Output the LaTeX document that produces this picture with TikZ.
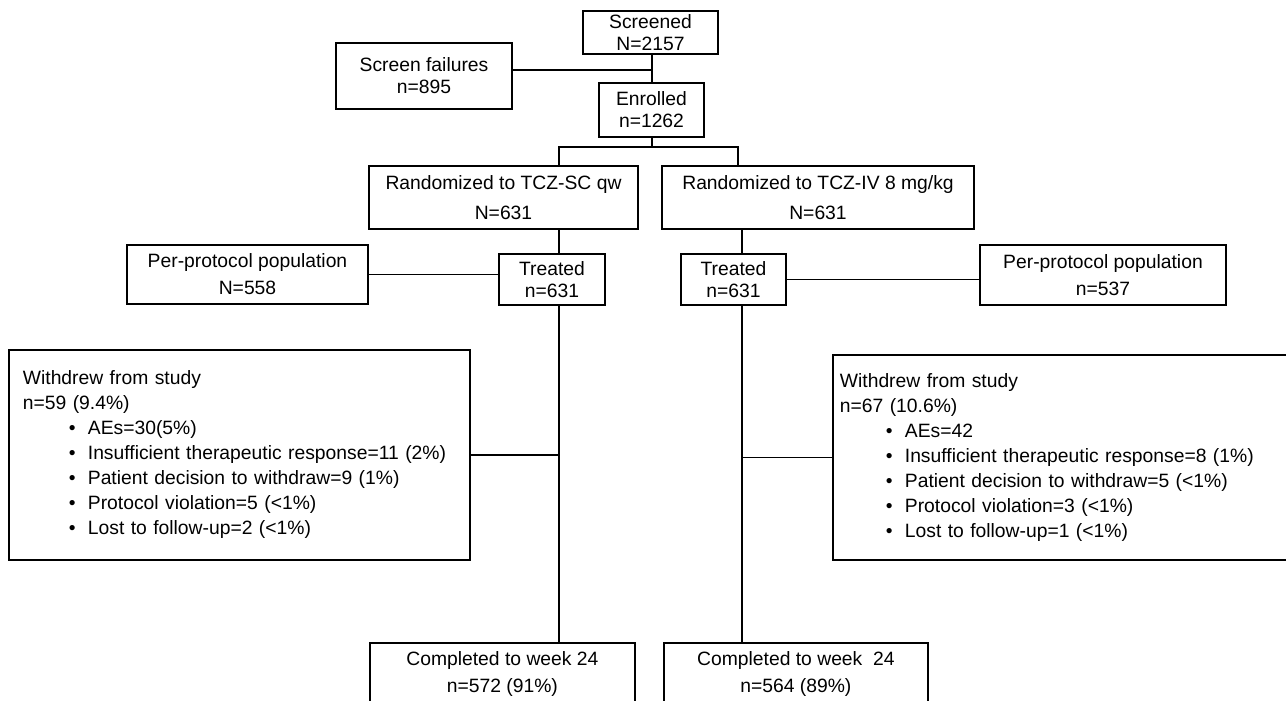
\documentclass[tikz,border=0pt]{standalone}
\usepackage{fontspec}
\setmainfont{Liberation Sans}
\usetikzlibrary{calc}

\newcommand{\wdbullet}{\hspace*{23pt}\makebox[9.5pt][l]{\textbullet}}

\begin{document}
\begin{tikzpicture}[x=0.5pt,y=-0.5pt,
      box/.style={draw,line width=0.9pt,align=center,inner sep=0pt,
                  font=\fontsize{9.65}{11}\selectfont},
      listbox/.style={draw,line width=0.9pt,align=left,anchor=north west,
                  inner ysep=0pt,font=\fontsize{9.65}{12.5}\selectfont},
      link/.style={line width=0.9pt},
    ]
    \useasboundingbox[fill=white] (0,0) rectangle (1286,701);
    \clip (0,0) rectangle (1286,701);

    % screening
    \node[box,minimum width=67.5pt,minimum height=21.5pt] (scr)
      at (650.5,32.5) {Screened\\N=2157};
    \node[box,minimum width=88pt,minimum height=33pt] (fail)
      at (424,76) {Screen failures\\n=895};
    \node[box,minimum width=52.5pt,minimum height=27pt] (enr)
      at (651.5,110) {Enrolled\\n=1262};

    % randomization
    \node[box,minimum width=134.5pt,minimum height=31.5pt] (randsc)
      at (503.5,197.5) {Randomized to TCZ-SC qw\\[4pt]N=631};
    \node[box,minimum width=156pt,minimum height=31.5pt] (randiv)
      at (818,197.5) {Randomized to TCZ-IV 8 mg/kg\\[4pt]N=631};

    % treated + per-protocol
    \node[box,minimum width=53pt,minimum height=25.5pt] (trsc)
      at (552,279.5) {Treated\\n=631};
    \node[box,minimum width=52.5pt,minimum height=25.5pt] (triv)
      at (733.5,279.5) {Treated\\n=631};
    \node[box,minimum width=120.5pt,minimum height=29.5pt] (ppsc)
      at (247.5,274.5) {Per-protocol population\\[2.5pt]N=558};
    \node[box,minimum width=123pt,minimum height=30pt] (ppiv)
      at (1103,275) {Per-protocol population\\[2.5pt]n=537};

    % withdrawals
    \node[listbox,inner xsep=7pt,text width=216.5pt,minimum height=105pt]
      (wdsc) at (8,349) {%
      Withdrew from study\\
      n=59 (9.4\%)\\
      \wdbullet AEs=30(5\%)\\
      \wdbullet Insufficient therapeutic response=11 (2\%)\\
      \wdbullet Patient decision to withdraw=9 (1\%)\\
      \wdbullet Protocol violation=5 (<1\%)\\
      \wdbullet Lost to follow-up=2 (<1\%)};
    \node[listbox,inner xsep=3.5pt,text width=225pt,minimum height=102.5pt]
      (wdiv) at (832,354) {%
      Withdrew from study\\
      n=67 (10.6\%)\\
      \wdbullet AEs=42\\
      \wdbullet Insufficient therapeutic response=8 (1\%)\\
      \wdbullet Patient decision to withdraw=5 (<1\%)\\
      \wdbullet Protocol violation=3 (<1\%)\\
      \wdbullet Lost to follow-up=1 (<1\%)};

    % completed
    \node[box,anchor=north west,minimum width=132.5pt,minimum height=31pt]
      (cmsc) at (369,642) {Completed to week 24\\[2.5pt]n=572 (91\%)};
    \node[box,anchor=north west,minimum width=132pt,minimum height=31pt]
      (cmiv) at (663,642) {Completed to week\ \ 24\\[2.5pt]n=564 (89\%)};

    % junctions and trunks
    \coordinate (tkscr) at (652,0);
    \coordinate (j1) at ($(tkscr |- scr.south)!0.55!(tkscr |- enr.north)$);
    \coordinate (br) at (652,147);
    \coordinate (brsc) at (559,147);
    \coordinate (briv) at (738,147);
    \coordinate (tksc) at (559,0);
    \coordinate (tkiv) at (742,0);

    % connectors
    \draw[link] (tkscr |- scr.south) -- (tkscr |- enr.north);
    \draw[link] (fail.east |- j1) -- (j1);
    \draw[link] (tkscr |- enr.south) -- (br);
    \draw[link] (brsc |- randsc.north) -- (brsc) -- (briv)
      -- (briv |- randiv.north);
    \draw[link] (tksc |- randsc.south) -- (tksc |- trsc.north);
    \draw[link] (tksc |- trsc.south) -- (tksc |- cmsc.north);
    \draw[link] (tkiv |- randiv.south) -- (tkiv |- triv.north);
    \draw[link] (tkiv |- triv.south) -- (tkiv |- cmiv.north);
    \draw[link] (ppsc.east) -- (ppsc.east -| trsc.west);
    \draw[link] (triv.east) -- (triv.east -| ppiv.west);
    \draw[link] (wdsc.east) -- (wdsc.east -| tksc);
    \draw[link] (wdiv.west) -- (wdiv.west -| tkiv);
\end{tikzpicture}
\end{document}
